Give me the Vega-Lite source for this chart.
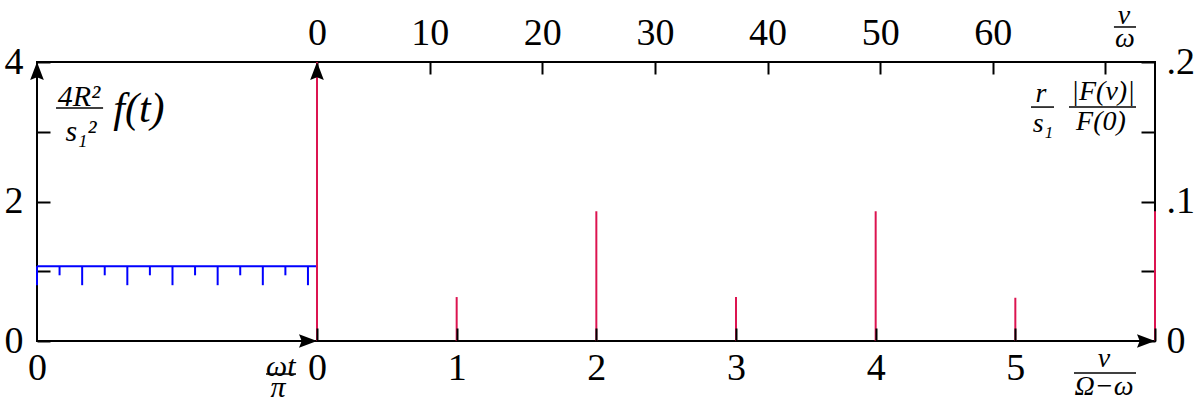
{
  "$schema": "https://vega.github.io/schema/vega-lite/v6.json",
  "padding": 0,
  "spacing": 0,
  "bounds": "flush",
  "background": "white",
  "config": {
    "view": {"stroke": "black", "strokeWidth": 2},
    "axis": {"domain": false, "grid": false, "labelFont": "Liberation Serif", "labelFontSize": 38, "labelColor": "black", "tickColor": "black", "tickWidth": 2, "labelFlush": false, "labelOverlap": false, "labelBound": false},
    "text": {"font": "Liberation Serif", "color": "black"}
  },
  "datasets": {
    "fline": [{"t": 0, "t2": 1, "v": 1.071}],
    "dips": [
      {"t": 0, "v": 1.071, "v2": 0.8},
      {"t": 0.0806, "v": 1.071, "v2": 0.942},
      {"t": 0.1613, "v": 1.071, "v2": 0.8},
      {"t": 0.2419, "v": 1.071, "v2": 0.942},
      {"t": 0.3226, "v": 1.071, "v2": 0.8},
      {"t": 0.4032, "v": 1.071, "v2": 0.942},
      {"t": 0.4839, "v": 1.071, "v2": 0.8},
      {"t": 0.5645, "v": 1.071, "v2": 0.942},
      {"t": 0.6452, "v": 1.071, "v2": 0.8},
      {"t": 0.7258, "v": 1.071, "v2": 0.942},
      {"t": 0.8065, "v": 1.071, "v2": 0.8},
      {"t": 0.8871, "v": 1.071, "v2": 0.942},
      {"t": 0.9677, "v": 1.071, "v2": 0.8}
    ],
    "arrowsL": [{"t": 0, "v": 4, "dir": "up"}, {"t": 1, "v": 0, "dir": "right"}],
    "textL": [
      {"t": 0.15, "v": 3.498, "label": "4R²"},
      {"t": 0.157, "v": 2.99, "label": "s₁²"},
      {"t": 0.871, "v": -0.373, "label": "ωt"},
      {"t": 0.861, "v": -0.674, "label": "π"}
    ],
    "textLbig": [{"t": 0.364, "v": 3.326, "label": "f(t)"}],
    "barsL": [{"t": 0.068, "t2": 0.236, "v": 3.34}, {"t": 0.818, "t2": 0.925, "v": -0.473}],
    "spikes": [
      {"nu": 0, "amp": 0.2},
      {"nu": 1, "amp": 0.0315},
      {"nu": 2, "amp": 0.093},
      {"nu": 3, "amp": 0.0315},
      {"nu": 4, "amp": 0.093},
      {"nu": 5, "amp": 0.031},
      {"nu": 6, "amp": 0.093}
    ],
    "arrowsR": [{"nu": 0, "amp": 0.2, "dir": "up"}, {"nu": 6, "amp": 0, "dir": "right"}],
    "textR": [
      {"nu": 5.778, "amp": 0.233, "label": "ν"},
      {"nu": 5.785, "amp": 0.2165, "label": "ω"},
      {"nu": 5.184, "amp": 0.1771, "label": "r"},
      {"nu": 5.198, "amp": 0.1556, "label": "s₁"},
      {"nu": 5.628, "amp": 0.1785, "label": "|F(ν)|"},
      {"nu": 5.613, "amp": 0.157, "label": "F(0)"},
      {"nu": 5.635, "amp": -0.0129, "label": "ν"},
      {"nu": 5.635, "amp": -0.033, "label": "Ω−ω"}
    ],
    "barsR": [
      {"nu": 5.706, "nu2": 5.864, "amp": 0.2251},
      {"nu": 5.112, "nu2": 5.277, "amp": 0.1677},
      {"nu": 5.384, "nu2": 5.864, "amp": 0.1677},
      {"nu": 5.42, "nu2": 5.864, "amp": -0.0229}
    ],
    "topaxis": [{"nw": 0}, {"nw": 74.4}]
  },
  "hconcat": [
    {
      "width": 280,
      "height": 279,
      "layer": [
        {
          "data": {"name": "fline"},
          "mark": {"type": "rule", "color": "#0000ff", "strokeWidth": 2},
          "encoding": {
            "x": {"field": "t", "type": "quantitative", "scale": {"domain": [0, 1], "nice": false}, "axis": {"title": null, "orient": "bottom", "values": [0], "format": "d", "ticks": false, "labelPadding": 8, "minExtent": 62, "maxExtent": 62}},
            "x2": {"field": "t2"},
            "y": {"field": "v", "type": "quantitative", "scale": {"domain": [0, 4], "nice": false}, "axis": {"title": null, "orient": "left", "values": [0, 1, 2, 3, 4], "tickSize": -13, "labelPadding": 27, "labelExpr": "datum.value == 0 ? '0' : datum.value == 2 ? '2' : datum.value == 4 ? '4' : ''", "minExtent": 36, "maxExtent": 36}}
          }
        },
        {
          "data": {"name": "dips"},
          "mark": {"type": "rule", "color": "#0000ff", "strokeWidth": 2},
          "encoding": {
            "x": {"field": "t", "type": "quantitative"},
            "y": {"field": "v", "type": "quantitative"},
            "y2": {"field": "v2"}
          }
        },
        {
          "data": {"name": "textL"},
          "mark": {"type": "text", "font": "Liberation Serif", "fontSize": 30, "fontStyle": "italic", "align": "center", "baseline": "middle"},
          "encoding": {
            "x": {"field": "t", "type": "quantitative"},
            "y": {"field": "v", "type": "quantitative"},
            "text": {"field": "label"}
          }
        },
        {
          "data": {"name": "textLbig"},
          "mark": {"type": "text", "font": "Liberation Serif", "fontSize": 42, "fontStyle": "italic", "align": "center", "baseline": "middle"},
          "encoding": {
            "x": {"field": "t", "type": "quantitative"},
            "y": {"field": "v", "type": "quantitative"},
            "text": {"field": "label"}
          }
        },
        {
          "data": {"name": "barsL"},
          "mark": {"type": "rule", "color": "black", "strokeWidth": 1.5},
          "encoding": {
            "x": {"field": "t", "type": "quantitative"},
            "x2": {"field": "t2"},
            "y": {"field": "v", "type": "quantitative"}
          }
        },
        {
          "data": {"name": "arrowsL"},
          "mark": {"type": "point", "filled": true, "color": "black", "opacity": 1, "size": 1296, "strokeWidth": 0},
          "encoding": {
            "x": {"field": "t", "type": "quantitative"},
            "y": {"field": "v", "type": "quantitative"},
            "shape": {"field": "dir", "type": "nominal", "legend": null, "scale": {"domain": ["up", "right"], "range": ["M0,0L-0.38,1L0,0.85L0.38,1Z", "M0,0L-1,-0.38L-0.85,0L-1,0.38Z"]}}
          }
        }
      ]
    },
    {
      "width": 838,
      "height": 279,
      "layer": [
        {
          "layer": [
            {
              "data": {"name": "spikes"},
              "mark": {"type": "rule", "color": "#dc1450", "strokeWidth": 2},
              "encoding": {
                "x": {"field": "nu", "type": "quantitative", "scale": {"domain": [0, 6], "nice": false}, "axis": {"title": null, "orient": "bottom", "values": [0, 1, 2, 3, 4, 5, 6], "tickSize": -13, "labelPadding": 21, "labelExpr": "datum.value < 6 ? format(datum.value, 'd') : ''", "minExtent": 62, "maxExtent": 62, "zindex": 1}},
                "y": {"field": "amp", "type": "quantitative", "scale": {"domain": [0, 0.2], "nice": false}, "axis": {"title": null, "orient": "right", "values": [0, 0.05, 0.1, 0.15, 0.2], "tickSize": -14, "labelPadding": 25, "labelExpr": "datum.value == 0 ? '0' : datum.value == 0.1 ? '.1' : datum.value == 0.2 ? '.2' : ''", "minExtent": 46, "maxExtent": 46}},
                "y2": {"datum": 0}
              }
            },
            {
              "data": {"name": "textR"},
              "mark": {"type": "text", "font": "Liberation Serif", "fontSize": 28, "fontStyle": "italic", "align": "center", "baseline": "middle"},
              "encoding": {
                "x": {"field": "nu", "type": "quantitative"},
                "y": {"field": "amp", "type": "quantitative"},
                "text": {"field": "label"}
              }
            },
            {
              "data": {"name": "barsR"},
              "mark": {"type": "rule", "color": "black", "strokeWidth": 1.5},
              "encoding": {
                "x": {"field": "nu", "type": "quantitative"},
                "x2": {"field": "nu2"},
                "y": {"field": "amp", "type": "quantitative"}
              }
            },
            {
              "data": {"name": "arrowsR"},
              "mark": {"type": "point", "filled": true, "color": "black", "opacity": 1, "size": 1296, "strokeWidth": 0},
              "encoding": {
                "x": {"field": "nu", "type": "quantitative"},
                "y": {"field": "amp", "type": "quantitative"},
                "shape": {"field": "dir", "type": "nominal", "legend": null, "scale": {"domain": ["up", "right"], "range": ["M0,0L-0.38,1L0,0.85L0.38,1Z", "M0,0L-1,-0.38L-0.85,0L-1,0.38Z"]}}
              }
            }
          ]
        },
        {
          "data": {"name": "topaxis"},
          "mark": {"type": "point", "opacity": 0},
          "encoding": {
            "x": {"field": "nw", "type": "quantitative", "scale": {"domain": [0, 74.4], "nice": false}, "axis": {"title": null, "orient": "top", "values": [0, 10, 20, 30, 40, 50, 60, 70], "tickSize": -12, "labelPadding": 22, "labelExpr": "datum.value < 70 ? datum.label : ''", "minExtent": 60, "maxExtent": 60}}
          }
        }
      ],
      "resolve": {"scale": {"x": "independent", "shape": "independent"}, "axis": {"x": "independent"}}
    }
  ],
  "resolve": {"scale": {"shape": "independent"}}
}
